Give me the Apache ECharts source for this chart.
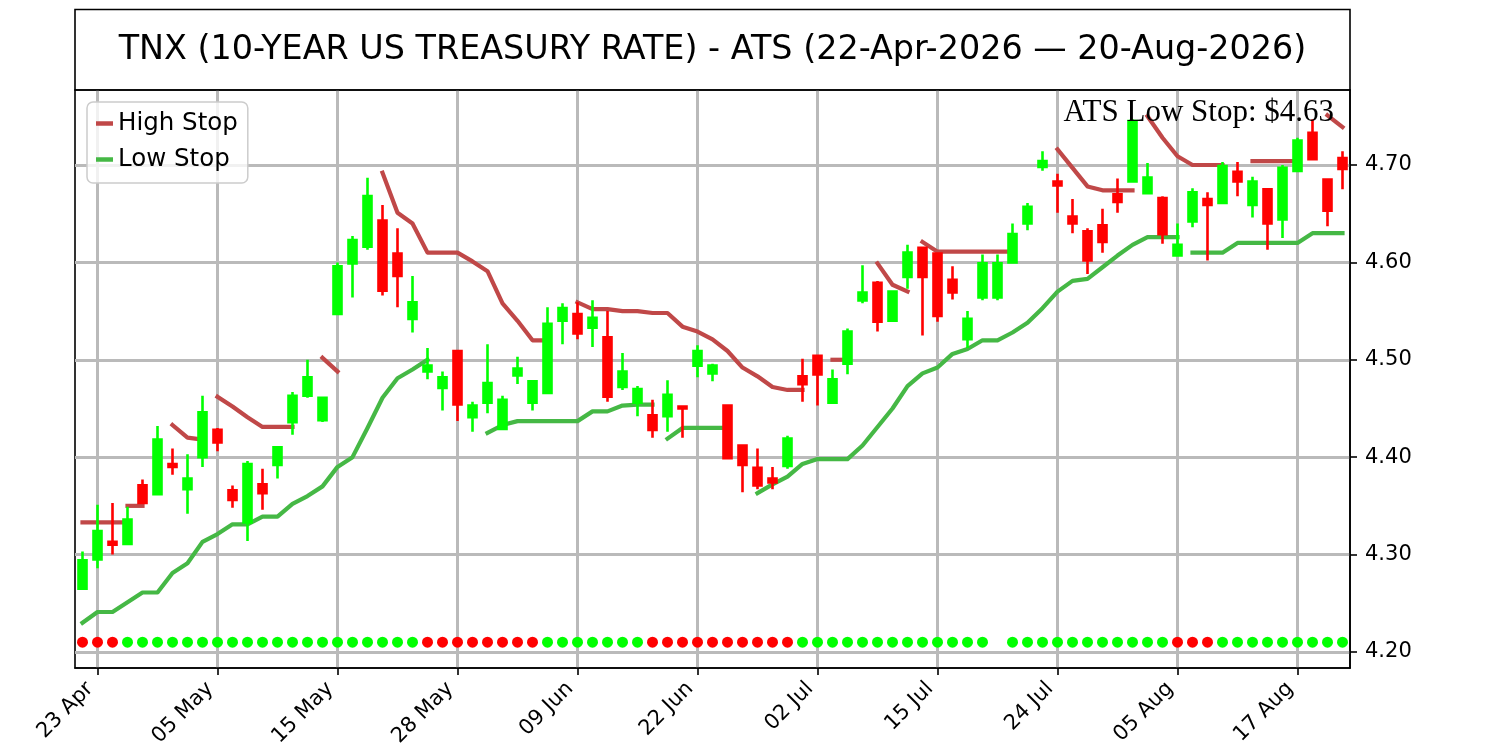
<!DOCTYPE html>
<html>
<head>
<meta charset="utf-8">
<script src="https://cdn.jsdelivr.net/npm/echarts@6/dist/echarts.min.js"></script>
<style>
html,body{margin:0;padding:0;background:#ffffff;}
#chart{width:1500px;height:750px;}
</style>
</head>
<body>
<div id="chart"></div>
<script>
// ---------------- DATA ----------------
const titleText = 'TNX (10-YEAR US TREASURY RATE) - ATS (22-Apr-2026 \u2014 20-Aug-2026)';
const annotationText = 'ATS Low Stop: $4.63';

const dates = [
  '22 Apr','23 Apr','24 Apr','27 Apr','28 Apr','29 Apr','30 Apr',
  '01 May','04 May','05 May','06 May','07 May','08 May','11 May','12 May','13 May','14 May','15 May',
  '18 May','19 May','20 May','21 May','22 May','26 May','27 May','28 May','29 May',
  '01 Jun','02 Jun','03 Jun','04 Jun','05 Jun','08 Jun','09 Jun','10 Jun','11 Jun','12 Jun',
  '15 Jun','16 Jun','17 Jun','18 Jun','22 Jun','23 Jun','24 Jun','25 Jun','26 Jun','29 Jun','30 Jun',
  '01 Jul','02 Jul','06 Jul','07 Jul','08 Jul','09 Jul','10 Jul','13 Jul','14 Jul','15 Jul',
  '16 Jul','17 Jul','20 Jul','20 Jul ','21 Jul','22 Jul','23 Jul','24 Jul',
  '27 Jul','28 Jul','29 Jul','30 Jul','31 Jul','03 Aug','04 Aug','05 Aug','06 Aug','07 Aug',
  '10 Aug','11 Aug','12 Aug','13 Aug','14 Aug','17 Aug','18 Aug','19 Aug','20 Aug'
];

const opens = [
  4.265,4.295,4.313,4.311,4.371,4.362,4.393,4.367,4.400,4.428,
  4.366,4.333,4.372,4.392,4.436,4.463,4.438,4.547,4.599,4.616,
  4.643,4.609,4.542,4.488,4.471,4.509,4.441,4.456,4.429,4.484,
  4.456,4.466,4.540,4.547,4.533,4.523,4.472,4.456,4.443,4.442,
  4.452,4.494,4.486,4.453,4.412,4.389,4.378,4.391,4.483,4.504,
  4.456,4.496,4.561,4.579,4.540,4.585,4.615,4.609,4.582,4.521,
  4.564,4.564,4.600,4.640,4.698,4.683,4.647,4.632,4.638,4.670,
  4.683,4.671,4.666,4.607,4.642,4.665,4.661,4.693,4.659,4.675,
  4.644,4.694,4.733,4.685,4.707
];
const highs = [
  4.303,4.351,4.353,4.349,4.377,4.432,4.409,4.403,4.463,4.430,
  4.371,4.396,4.388,4.410,4.467,4.500,4.461,4.600,4.627,4.687,
  4.659,4.635,4.586,4.512,4.488,4.510,4.457,4.516,4.463,4.503,
  4.478,4.554,4.558,4.559,4.561,4.550,4.507,4.473,4.459,4.479,
  4.452,4.515,4.496,4.454,4.413,4.409,4.390,4.422,4.501,4.505,
  4.490,4.532,4.597,4.581,4.571,4.618,4.615,4.609,4.596,4.550,
  4.608,4.608,4.640,4.661,4.714,4.691,4.665,4.635,4.655,4.686,
  4.747,4.702,4.668,4.640,4.676,4.672,4.703,4.703,4.688,4.676,
  4.700,4.728,4.747,4.685,4.714
];
const lows = [
  4.264,4.286,4.300,4.311,4.352,4.362,4.382,4.342,4.390,4.406,
  4.348,4.314,4.346,4.378,4.423,4.461,4.436,4.547,4.564,4.613,
  4.566,4.554,4.528,4.480,4.448,4.437,4.426,4.445,4.428,4.475,
  4.448,4.466,4.516,4.521,4.513,4.457,4.469,4.442,4.420,4.426,
  4.420,4.482,4.478,4.398,4.364,4.367,4.367,4.388,4.457,4.453,
  4.456,4.485,4.558,4.529,4.540,4.573,4.525,4.539,4.562,4.512,
  4.561,4.561,4.599,4.633,4.694,4.651,4.630,4.588,4.610,4.651,
  4.683,4.671,4.619,4.607,4.636,4.602,4.661,4.668,4.646,4.613,
  4.625,4.694,4.705,4.637,4.675
];
const closes = [
  4.294,4.324,4.310,4.336,4.353,4.418,4.390,4.378,4.446,4.415,
  4.356,4.393,4.363,4.410,4.463,4.482,4.461,4.596,4.623,4.668,
  4.571,4.586,4.559,4.494,4.482,4.454,4.453,4.476,4.459,4.491,
  4.478,4.537,4.553,4.527,4.543,4.462,4.488,4.470,4.428,4.464,
  4.450,4.509,4.494,4.399,4.392,4.371,4.374,4.419,4.475,4.485,
  4.480,4.529,4.569,4.539,4.570,4.610,4.585,4.545,4.569,4.542,
  4.599,4.599,4.629,4.657,4.704,4.679,4.640,4.602,4.621,4.662,
  4.745,4.687,4.629,4.618,4.672,4.659,4.699,4.683,4.683,4.640,
  4.697,4.725,4.706,4.653,4.696
];

// High Stop drawn as separate runs: [start index, values]
const highStopRuns = [
  [0,  [4.333,4.333,4.333,4.333]],
  [3,  [4.350,4.350]],
  [6,  [4.433,4.420,4.418]],
  [9,  [4.462,4.452,4.441,4.431,4.431,4.431]],
  [16, [4.502,4.488]],
  [20, [4.692,4.651,4.640,4.610,4.610,4.610,4.601,4.591,4.558,4.540,4.520,4.520]],
  [33, [4.559,4.552,4.552,4.550,4.550,4.548,4.548,4.534,4.529,4.521,4.509,4.492,4.483,4.472,4.469,4.469]],
  [50, [4.500,4.500]],
  [53, [4.599,4.577,4.570]],
  [56, [4.621,4.611,4.611,4.611,4.611,4.611,4.611]],
  [65, [4.716,4.697,4.678,4.674,4.674,4.674]],
  [71, [4.750,4.728,4.709,4.700,4.700,4.700]],
  [78, [4.704,4.704,4.704,4.704]],
  [83, [4.751,4.739]]
];
// Low Stop runs
const lowStopRuns = [
  [0,  [4.230,4.241,4.241,4.251,4.261,4.261,4.281,4.291,4.313,4.321,4.331,4.331,4.339,4.339,4.352,4.360,4.370,4.390,4.400,4.430,4.461,4.481,4.490,4.500]],
  [27, [4.425,4.433,4.437,4.437,4.437,4.437,4.437,4.447,4.447,4.453,4.454,4.454]],
  [39, [4.419,4.430,4.430,4.430,4.430]],
  [45, [4.363,4.372,4.380,4.393,4.398,4.398,4.398,4.412,4.431,4.450,4.473,4.486,4.492,4.506,4.511,4.520,4.520,4.528,4.538,4.553,4.570,4.581,4.583,4.595,4.607,4.618,4.626,4.626,4.626]],
  [74, [4.610,4.610,4.610,4.620,4.620,4.620,4.620,4.620,4.630,4.630,4.630]]
];

// Signal dots: R = red, G = green, - = none
const signals = ('RRR' + 'GGGGGGGGGGGGGGGGGGGG' + 'RRRRRRRR' + 'GGGGGGG' + 'RRRRRRRRRR' +
                 'GGGGGGGGGGGGG' + '-' + 'GGGGGGGGGGG' + 'RRR' + 'GGGGGGGGG').split('');
const signalLevel = 4.21;

// ---------------- STYLE ----------------
const UP = '#00ff00', DOWN = '#ff0000';
const HIGH_COLOR = '#c04848', LOW_COLOR = '#45b845';
const GRID_COLOR = '#bababa';
const FONT = '"DejaVu Sans", sans-serif';

const tickShow = (i) => (i - 1) % 8 === 0;

function runSeries(name, color, runs) {
  return runs.map(([start, vals]) => {
    const arr = new Array(dates.length).fill(null);
    vals.forEach((v, k) => { arr[start + k] = v; });
    return {
      type: 'line', name: name, data: arr, connectNulls: false,
      showSymbol: false, symbol: 'none', z: 2, silent: true,
      lineStyle: { color: color, width: 4.2, cap: 'square', join: 'round' },
      itemStyle: { color: color }
    };
  });
}

const candleData = opens.map((o, i) => [o, closes[i], lows[i], highs[i]]);
const dotData = [];
signals.forEach((s, i) => {
  if (s === 'R' || s === 'G') {
    dotData.push({ value: [i, signalLevel], itemStyle: { color: s === 'R' ? DOWN : UP, opacity: 1 } });
  }
});

const chart = echarts.init(document.getElementById('chart'), null, { renderer: 'canvas' });
chart.setOption({
  animation: false,
  backgroundColor: '#ffffff',
  grid: {
    left: 75, right: 150, top: 90, bottom: 82,
    show: true, borderColor: '#000', borderWidth: 1.6, backgroundColor: 'transparent',
    outerBoundsMode: 'none', containLabel: false
  },
  legend: {
    orient: 'vertical', left: 87, top: 102,
    itemWidth: 17, itemHeight: 4.5, itemGap: 11,
    padding: [9, 10, 11, 9],
    backgroundColor: 'rgba(255,255,255,0.8)',
    borderColor: '#cccccc', borderWidth: 1.5, borderRadius: 6,
    textStyle: { fontSize: 24.5, fontFamily: FONT, color: '#000' },
    data: [{ name: 'High Stop', icon: 'rect' }, { name: 'Low Stop', icon: 'rect' }],
    z: 10
  },
  xAxis: {
    type: 'category', data: dates, boundaryGap: true,
    axisLine: { show: true, lineStyle: { color: '#000', width: 1.6 } },
    axisTick: { show: true, interval: tickShow, alignWithLabel: true, length: 7, lineStyle: { color: '#000', width: 1.6 } },
    axisLabel: { interval: tickShow, rotate: 45, fontSize: 21, fontFamily: FONT, color: '#000',
                 margin: 25, verticalAlign: 'bottom' },
    splitLine: { show: true, interval: tickShow, alignWithLabel: true, lineStyle: { color: GRID_COLOR, width: 3 } }
  },
  yAxis: {
    type: 'value', position: 'right', min: 4.1835, max: 4.777, scale: true,
    axisLine: { show: true, lineStyle: { color: '#000', width: 1.6 } },
    axisTick: { show: true, length: 7, lineStyle: { color: '#000', width: 1.6 } },
    axisLabel: {
      fontSize: 21, fontFamily: FONT, color: '#000', margin: 15,
      showMinLabel: false, showMaxLabel: false,
      formatter: (v) => v.toFixed(2)
    },
    splitLine: { show: true, showMinLine: false, showMaxLine: false, lineStyle: { color: GRID_COLOR, width: 3 } }
  },
  graphic: [
    { type: 'rect', z: 5, silent: true,
      shape: { x: 75, y: 9.5, width: 1275, height: 80.5 },
      style: { fill: 'none', stroke: '#000', lineWidth: 1.6 } },
    { type: 'text', z: 5, silent: true, x: 712.5, y: 50,
      style: { text: titleText, font: '33.4px "DejaVu Sans"', fill: '#000',
               align: 'center', verticalAlign: 'middle', textAlign: 'center', textVerticalAlign: 'middle' } },
    { type: 'text', z: 50, silent: true, x: 1334, y: 113,
      style: { text: annotationText, font: '31px "Liberation Serif"', fill: '#000',
               align: 'right', verticalAlign: 'middle', textAlign: 'right', textVerticalAlign: 'middle' } }
  ],
  series: [
    ...runSeries('High Stop', HIGH_COLOR, highStopRuns),
    ...runSeries('Low Stop', LOW_COLOR, lowStopRuns),
    {
      type: 'candlestick', name: 'TNX', data: candleData, z: 3, barWidth: 8,
      itemStyle: { color: UP, color0: DOWN, borderColor: UP, borderColor0: DOWN, borderWidth: 2.6 }
    },
    {
      type: 'scatter', name: 'Signal', data: dotData, symbol: 'circle', symbolSize: 11, z: 4,
      itemStyle: { opacity: 1 }
    }
  ]
});
</script>
</body>
</html>
